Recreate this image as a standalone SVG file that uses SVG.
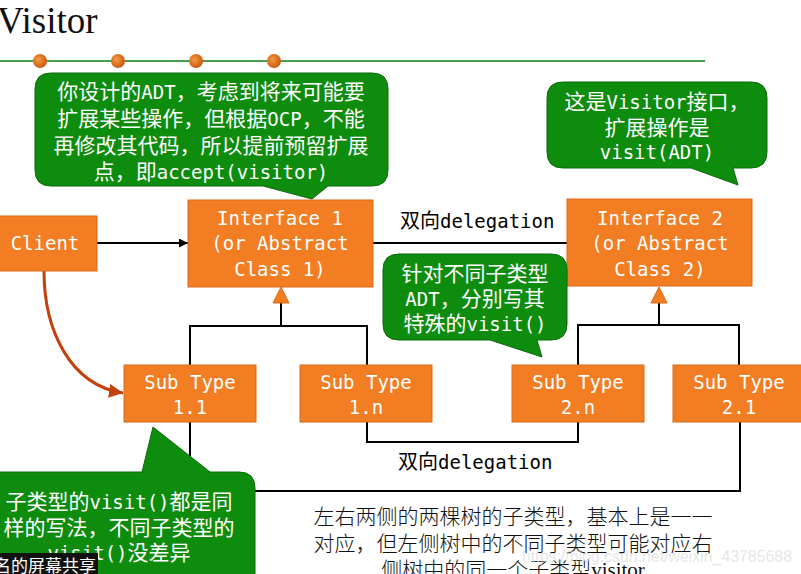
<svg xmlns="http://www.w3.org/2000/svg" width="801" height="574" viewBox="0 0 801 574">
<defs>
<style>
.box{fill:#f27d22;stroke:#d96a18;stroke-width:1}
.bt{font-family:"DejaVu Sans Mono","Liberation Mono",monospace;font-size:19px;fill:#ffffff;text-anchor:middle}
.cl{fill:#0e8c0e;stroke:#0a6a0a;stroke-width:1}
.ct{font-family:"Noto Sans CJK SC",sans-serif;font-size:21px;fill:#ffffff;text-anchor:middle}
.m{font-family:"DejaVu Sans Mono","Liberation Mono",monospace;font-size:19px}
.ln{fill:none;stroke:#000000;stroke-width:2}
.lbl{font-family:"Noto Sans CJK SC",sans-serif;font-size:20px;fill:#000000}
.tri{fill:#f27d22;stroke:#d96a18;stroke-width:1}
.bk{font-family:"Noto Sans CJK SC",sans-serif;font-size:21px;fill:#111111;text-anchor:middle;font-weight:300}
</style>
<radialGradient id="dot" cx="0.4" cy="0.4" r="0.6">
<stop offset="0" stop-color="#f59a45"/>
<stop offset="1" stop-color="#cc5a0e"/>
</radialGradient>
<marker id="ah" viewBox="0 0 10 10" refX="10" refY="5" markerWidth="9" markerHeight="9" markerUnits="userSpaceOnUse" orient="auto">
<path d="M0,0 L10,5 L0,10 Z" fill="#000000"/>
</marker>
<marker id="ahr" viewBox="0 0 10 10" refX="10" refY="5" markerWidth="14" markerHeight="14" markerUnits="userSpaceOnUse" orient="auto">
<path d="M0,0 L10,5 L0,10 Z" fill="#c2410c"/>
</marker>
</defs>
<rect width="801" height="574" fill="#ffffff"/>

<g id="title">
<text x="-3" y="33" font-family="Liberation Serif,serif" font-size="37" fill="#111111">Visitor</text>
<line x1="0" y1="61" x2="705" y2="61" stroke="#4a9e4a" stroke-width="2"/>
<circle cx="40" cy="61" r="7" fill="url(#dot)"/>
<circle cx="118" cy="61" r="7" fill="url(#dot)"/>
<circle cx="196" cy="61" r="7" fill="url(#dot)"/>
<circle cx="274" cy="61" r="7" fill="url(#dot)"/>
</g>

<g id="connectors">
<line class="ln" x1="97" y1="243" x2="188" y2="243" marker-end="url(#ah)" stroke-width="1.5"/>
<line class="ln" x1="373" y1="243" x2="567" y2="243"/>
<path d="M44,271 C44,330 70,385 123,393" fill="none" stroke="#c2410c" stroke-width="3" marker-end="url(#ahr)"/>
<polyline class="ln" points="281,303 281,326"/>
<polyline class="ln" points="190,365 190,326 367,326 367,365"/>
<polyline class="ln" points="659,303 659,325"/>
<polyline class="ln" points="578,365 578,325 739,325 739,365"/>
<polygon class="tri" points="281,287 273,303 289,303"/>
<polygon class="tri" points="659,287 651,303 667,303"/>
<polyline class="ln" points="367,422 367,442 578,442 578,422"/>
<polyline class="ln" points="190,422 190,491 740,491 740,422"/>
<text class="lbl" x="400" y="228">双向<tspan class="m">delegation</tspan></text>
<text class="lbl" x="398" y="469">双向<tspan class="m">delegation</tspan></text>
</g>

<g id="client">
<rect class="box" x="-2" y="216" width="99" height="55"/>
<text class="bt" x="45" y="250">Client</text>
</g>
<g id="interface1">
<rect class="box" x="188" y="200" width="185" height="87"/>
<text class="bt" x="280" y="225">Interface 1</text>
<text class="bt" x="280" y="250">(or Abstract</text>
<text class="bt" x="280" y="276">Class 1)</text>
</g>
<g id="interface2">
<rect class="box" x="567" y="199" width="185" height="87"/>
<text class="bt" x="660" y="225">Interface 2</text>
<text class="bt" x="660" y="250">(or Abstract</text>
<text class="bt" x="660" y="276">Class 2)</text>
</g>
<g id="subtype11">
<rect class="box" x="124" y="365" width="132" height="57"/>
<text class="bt" x="190" y="389">Sub Type</text>
<text class="bt" x="190" y="414">1.1</text>
</g>
<g id="subtype1n">
<rect class="box" x="300" y="365" width="132" height="57"/>
<text class="bt" x="366" y="389">Sub Type</text>
<text class="bt" x="366" y="414">1.n</text>
</g>
<g id="subtype2n">
<rect class="box" x="512" y="365" width="132" height="57"/>
<text class="bt" x="578" y="389">Sub Type</text>
<text class="bt" x="578" y="414">2.n</text>
</g>
<g id="subtype21">
<rect class="box" x="673" y="365" width="132" height="57"/>
<text class="bt" x="739" y="389">Sub Type</text>
<text class="bt" x="739" y="414">2.1</text>
</g>

<g id="callout1">
<path class="cl" d="M51,73 H372 Q388,73 388,89 V170 Q388,186 372,186 H328 L312,199 L263,186 H51 Q35,186 35,170 V89 Q35,73 51,73 Z"/>
<text class="ct" x="211" y="99">你设计的<tspan class="m">ADT</tspan>，考虑到将来可能要</text>
<text class="ct" x="211" y="126">扩展某些操作，但根据<tspan class="m">OCP</tspan>，不能</text>
<text class="ct" x="211" y="153">再修改其代码，所以提前预留扩展</text>
<text class="ct" x="211" y="179">点，即<tspan class="m">accept(visitor)</tspan></text>
</g>
<g id="callout2">
<path class="cl" d="M563,82 H751 Q767,82 767,98 V152 Q767,168 751,168 H733 L738,185 L691,168 H563 Q547,168 547,152 V98 Q547,82 563,82 Z"/>
<text class="ct" x="657" y="109">这是<tspan class="m">Visitor</tspan>接口，</text>
<text class="ct" x="657" y="135">扩展操作是</text>
<text class="ct" x="657" y="159"><tspan class="m">visit(ADT)</tspan></text>
</g>
<g id="callout3">
<path class="cl" d="M399,254 H551 Q567,254 567,270 V324 Q567,340 551,340 H537 L542,357 L490,340 H399 Q383,340 383,324 V270 Q383,254 399,254 Z"/>
<text class="ct" x="475" y="281">针对不同子类型</text>
<text class="ct" x="475" y="306"><tspan class="m">ADT</tspan>，分别写其</text>
<text class="ct" x="475" y="331">特殊的<tspan class="m">visit()</tspan></text>
</g>
<g id="callout4">
<path class="cl" d="M-10,472 H142 L153,427 L210,472 H239 Q255,472 255,488 V590 H-10 Z"/>
<text class="ct" x="119" y="509">子类型的<tspan class="m">visit()</tspan>都是同</text>
<text class="ct" x="119" y="535">样的写法，不同子类型的</text>
<text class="ct" x="119" y="560"><tspan class="m">visit()</tspan>没差异</text>
</g>

<g id="note">
<text class="bk" x="513" y="524">左右两侧的两棵树的子类型，基本上是一一</text>
<text class="bk" x="513" y="551">对应，但左侧树中的不同子类型可能对应右</text>
<text class="bk" x="513" y="577">侧树中的同一个子类型<tspan font-family="Liberation Serif,serif">visitor</tspan></text>
</g>

<g id="overlay">
<text x="522" y="562" font-family="Liberation Sans,sans-serif" font-size="16" fill="#d4d4d4" fill-opacity="0.6" textLength="270" lengthAdjust="spacingAndGlyphs">https://blog.csdn.net/weixin_43785688</text>
<rect x="0" y="553" width="98" height="21" fill="#111111"/>
<text x="-6" y="572" font-family="Noto Sans CJK SC,sans-serif" font-size="17" fill="#ffffff">名的屏幕共享</text>
</g>
</svg>
